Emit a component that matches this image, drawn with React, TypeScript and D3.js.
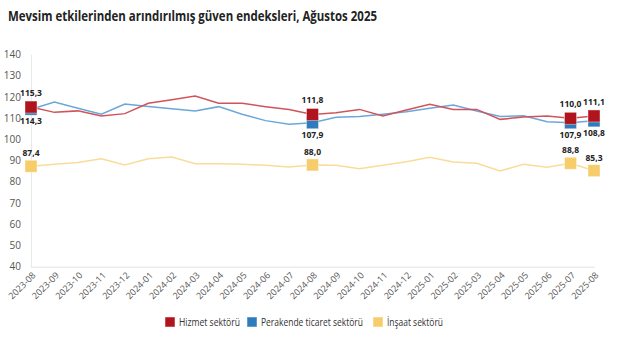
import React from "react";
import * as d3 from "d3";

const months = [
  "2023-08","2023-09","2023-10","2023-11","2023-12","2024-01","2024-02","2024-03","2024-04",
  "2024-05","2024-06","2024-07","2024-08","2024-09","2024-10","2024-11","2024-12","2025-01",
  "2025-02","2025-03","2025-04","2025-05","2025-06","2025-07","2025-08",
];
const hizmet = [115.3,112.8,113.5,111.1,112.2,117.1,118.8,120.5,117.1,117.1,115.5,114.1,111.8,112.6,114.2,111.1,113.9,116.6,114.2,114.2,109.5,110.6,111.1,110.0,111.1];
const perakende = [114.3,117.7,114.7,111.9,116.7,115.6,114.5,113.4,115.5,111.9,108.9,107.2,107.9,110.5,110.8,111.9,113.1,114.7,116.3,113.4,110.8,111.2,108.4,107.9,108.8];
const insaat = [87.4,88.3,89.2,90.9,88.0,90.9,91.7,88.6,88.6,88.3,87.8,87.0,88.0,87.8,86.2,87.8,89.5,91.6,89.4,88.8,85.2,88.3,86.9,88.8,85.3];
const yTicks = [40,50,60,70,80,90,100,110,120,130,140];
const markedIdx = [0,12,23,24];
const seriesNames = ["Hizmet sektörü","Perakende ticaret sektörü","İnşaat sektörü"];
const title = "Mevsim etkilerinden arındırılmış güven endeksleri, Ağustos 2025";

const markerColors = ["#B0141C","#2E7BBD","#F7CD6B"];
const lineColors = ["#D0545B","#6BA7D8","#F9DC9B"];
const FONT = "'Segoe UI','Open Sans','Noto Sans',sans-serif";

export default function App() {
  const W = 625, H = 339;
  const x = d3.scalePoint<string>().domain(months).range([31, 594]);
  const y = d3.scaleLinear().domain([40, 140]).range([266.7, 54.7]);
  const line = d3.line<number>().x((_, i) => x(months[i])!).y(d => y(d));
  const series = [perakende, hizmet, insaat];
  const seriesColorIdx = [1, 0, 2];
  const fmt = (v: number) => v.toFixed(1).replace(".", ",");
  const legendX = [165, 247, 373];
  const legendW = [61, 102, 56];

  return (
    <div style={{ position: "absolute", left: 0, top: 0 }}>
      <svg width={W} height={H} style={{ display: "block", background: "#fff" }} fontFamily={FONT}>
        <text x={8} y={20.5} fontSize={13.5} fontWeight={700} fill="#222" textLength={369} lengthAdjust="spacingAndGlyphs">{title}</text>
        <line x1={31.5} x2={31.5} y1={y(140)} y2={y(40)} stroke="#e8e8e8" />
        <line x1={31} x2={595} y1={y(40) + 0.5} y2={y(40) + 0.5} stroke="#e3e3e3" />
        {yTicks.map(t => (
          <text key={t} x={21} y={y(t)} dy="0.35em" textAnchor="end" fontSize={10} fill="#555">{t}</text>
        ))}
        {months.map(m => (
          <text key={m} transform={`translate(${x(m)! + 3},${y(40) + 7}) rotate(-45)`} textAnchor="end" dy="0.35em" fontSize={9} fill="#555">{m}</text>
        ))}
        {series.map((s, k) => (
          <path key={k} d={line(s)!} fill="none" stroke={lineColors[seriesColorIdx[k]]} strokeWidth={1.5} />
        ))}
        {markedIdx.map(i => (
          <g key={"m" + i}>
            {[perakende, hizmet, insaat].map((s, k) => (
              <rect key={k} x={x(months[i])! - 6} y={y(s[i]) - 6} width={12} height={12}
                fill={markerColors[seriesColorIdx[k]]} stroke="#fff" strokeOpacity={0.5} strokeWidth={0.8} />
            ))}
          </g>
        ))}
        {markedIdx.map(i => (
          <g key={"l" + i} fontSize={8.5} fontWeight={700} fill="#222" textAnchor="middle">
            <text x={x(months[i])!} y={y(hizmet[i]) - 11}>{fmt(hizmet[i])}</text>
            <text x={x(months[i])!} y={y(perakende[i]) + 15}>{fmt(perakende[i])}</text>
            <text x={x(months[i])!} y={y(insaat[i]) - 10}>{fmt(insaat[i])}</text>
          </g>
        ))}
        {seriesNames.map((n, k) => (
          <g key={n}>
            <rect x={legendX[k]} y={317} width={10} height={10} fill={markerColors[k]} stroke="#fff" strokeOpacity={0.5} />
            <text x={legendX[k] + 14} y={322} dy="0.35em" fontSize={11} fill="#333" textLength={legendW[k]} lengthAdjust="spacingAndGlyphs">{n}</text>
          </g>
        ))}
      </svg>
    </div>
  );
}
